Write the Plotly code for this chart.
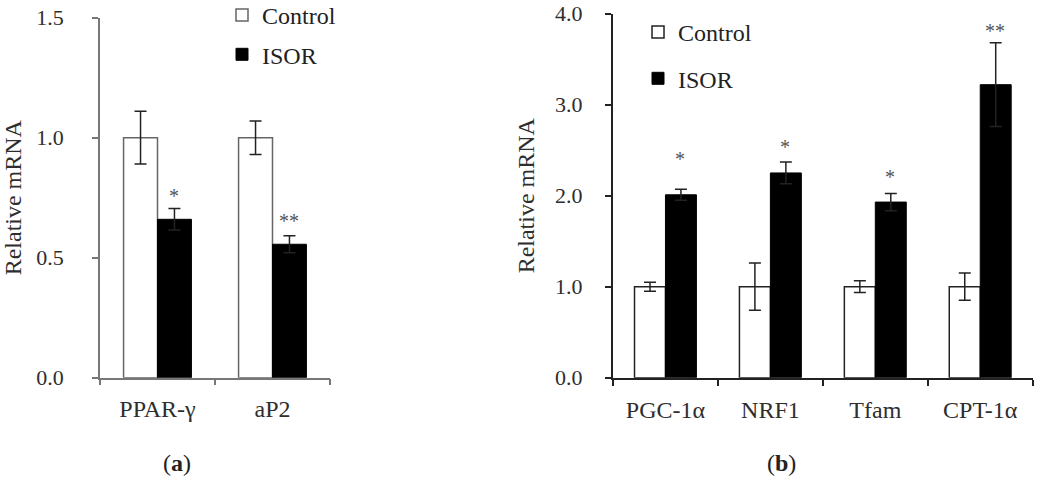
import plotly.graph_objects as go

W, H = 1041, 481

# ---- data ----
cats_a = ["PPAR-γ", "aP2"]
ctrl_a = [1.0, 1.0]
ctrl_a_err = [0.11, 0.07]
isor_a = [0.66, 0.556]
isor_a_err = [0.045, 0.035]
sig_a = ["*", "**"]
sig_a_y = [0.774, 0.669]

cats_b = ["PGC-1α", "NRF1", "Tfam", "CPT-1α"]
ctrl_b = [1.0, 1.0, 1.0, 1.0]
ctrl_b_err = [0.05, 0.26, 0.065, 0.15]
isor_b = [2.01, 2.25, 1.93, 3.22]
isor_b_err = [0.06, 0.12, 0.095, 0.46]
sig_b = ["*", "*", "*", "**"]
sig_b_y = [2.447, 2.576, 2.246, 3.857]

yticks_a = [0.0, 0.5, 1.0, 1.5]
yticks_b = [0.0, 1.0, 2.0, 3.0, 4.0]

FONT = "Liberation Serif, Times New Roman, serif"
TXT = "#2e2e2e"

def px_x(p):
    return p / W

def px_y(p):
    return 1 - p / H

fig = go.Figure()

def add_panel(cats, ctrl, ctrl_err, isor, isor_err, xa, ya, legend, line_col, line_w):
    fig.add_trace(go.Bar(
        x=cats, y=ctrl, name="Control", xaxis=xa, yaxis=ya, legend=legend,
        legendgroup="c", marker=dict(color="white", line=dict(color=line_col, width=line_w)),
        error_y=dict(type="data", array=ctrl_err, visible=True, color="#222", thickness=1.5, width=6),
    ))
    fig.add_trace(go.Bar(
        x=cats, y=isor, name="ISOR", xaxis=xa, yaxis=ya, legend=legend,
        legendgroup="i", marker=dict(color="black", line=dict(color="black", width=1)),
        error_y=dict(type="data", array=isor_err, visible=True, color="#222", thickness=1.5, width=6),
    ))

add_panel(cats_a, ctrl_a, ctrl_a_err, isor_a, isor_a_err, "x", "y", "legend", "#666", 1.5)
add_panel(cats_b, ctrl_b, ctrl_b_err, isor_b, isor_b_err, "x2", "y2", "legend2", "#222", 1.5)

# significance marks (centred on the ISOR bar)
for c, yv, s in zip(cats_a, sig_a_y, sig_a):
    fig.add_annotation(x=c, y=yv, xref="x", yref="y", text=s, showarrow=False,
                       xshift=16, yshift=-4, yanchor="middle",
                       font=dict(family=FONT, size=20, color="#555"))
for c, yv, s in zip(cats_b, sig_b_y, sig_b):
    fig.add_annotation(x=c, y=yv, xref="x2", yref="y2", text=s, showarrow=False,
                       xshift=15, yshift=-4, yanchor="middle",
                       font=dict(family=FONT, size=20, color="#555"))

# panel labels
for xp, lab in [(177, "(<b>a</b>)"), (781, "(<b>b</b>)")]:
    fig.add_annotation(x=px_x(xp), y=px_y(463), xref="paper", yref="paper", text=lab,
                       showarrow=False, xanchor="center", yanchor="middle",
                       font=dict(family=FONT, size=24, color="#222"))

ybot = px_y(377.7)

def xaxis_cfg(dom, col, lw, anchor):
    return dict(domain=dom, anchor=anchor, showline=True, linecolor=col, linewidth=lw,
                ticks="outside", tickson="boundaries", ticklen=6, tickcolor=col, tickwidth=lw,
                showgrid=False, zeroline=False, ticklabelstandoff=9,
                tickfont=dict(family=FONT, size=24, color=TXT))

def yaxis_cfg(dom, rng, vals, col, lw, anchor, standoff, title_standoff):
    return dict(domain=dom, anchor=anchor, range=rng, tickvals=vals,
                ticktext=[f"{v:.1f}" for v in vals],
                showline=True, linecolor=col, linewidth=lw, ticks="outside", ticklen=6,
                tickcolor=col, tickwidth=lw, showgrid=False, zeroline=False,
                ticklabelstandoff=standoff,
                tickfont=dict(family=FONT, size=22, color=TXT),
                title=dict(text="Relative mRNA", standoff=title_standoff,
                           font=dict(family=FONT, size=24, color=TXT)))

legend_common = dict(font=dict(family=FONT, size=24, color="#222"), bgcolor="rgba(0,0,0,0)",
                     traceorder="grouped", itemwidth=30, xanchor="left", yanchor="top",
                     xref="paper", yref="paper")

fig.update_layout(
    width=W, height=H, margin=dict(l=0, r=0, t=0, b=0, autoexpand=False),
    paper_bgcolor="white", plot_bgcolor="white",
    barmode="group", bargap=0.41, bargroupgap=0,
    xaxis=xaxis_cfg([px_x(100), px_x(330)], "#777", 1.5, "y"),
    yaxis=yaxis_cfg([ybot, px_y(17.7)], [0, 1.5], yticks_a, "#777", 1.5, "x", 24, 10),
    xaxis2=xaxis_cfg([px_x(613), px_x(1032.7)], "#222", 2, "y2"),
    yaxis2=yaxis_cfg([ybot, px_y(13.7)], [0, 4.0], yticks_b, "#222", 2, "x2", 18, 14),
    legend=dict(**legend_common, x=px_x(222), y=px_y(-7), tracegroupgap=5),
    legend2=dict(**legend_common, x=px_x(638), y=px_y(10), tracegroupgap=12),
    showlegend=True,
)

fig.write_html("out.html")
